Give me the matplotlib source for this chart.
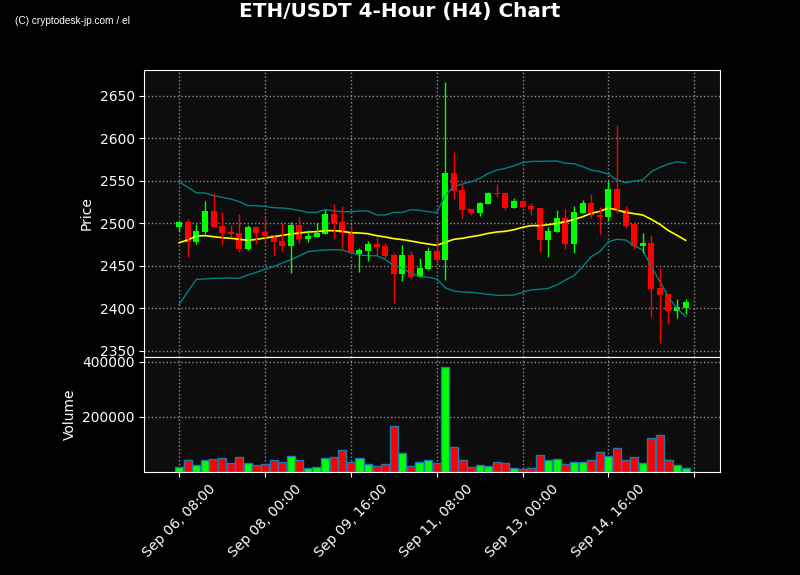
import matplotlib
matplotlib.use("Agg")
import matplotlib.pyplot as plt
import numpy as np
import pandas as pd

# ---- data ----
start = "2024-09-06 08:00"
n = 60
dates = pd.date_range(start, periods=n, freq="4h")

opens = [2496.0, 2501.6, 2478.4, 2489.8, 2514.5, 2496.9, 2489.8, 2488.6, 2470.2, 2495.7,
         2489.8, 2486.3, 2479.2, 2473.7, 2498.0, 2481.6, 2483.9, 2487.5, 2511.0, 2501.6,
         2488.6, 2464.3, 2467.5, 2476.1, 2473.7, 2462.7, 2440.8, 2462.7, 2437.3, 2446.7,
         2467.5, 2457.3, 2558.8, 2539.2, 2516.9, 2512.2, 2523.1, 2535.7, 2535.7, 2518.4,
         2526.3, 2520.8, 2518.0, 2480.8, 2489.8, 2506.3, 2476.1, 2512.2, 2524.0, 2509.8,
         2507.8, 2540.4, 2515.7, 2499.6, 2473.7, 2476.9, 2423.9, 2417.3, 2397.3, 2400.8]
highs = [2502.0, 2504.7, 2499.2, 2525.9, 2536.0, 2513.7, 2497.6, 2510.6, 2498.4, 2496.0,
         2507.1, 2486.3, 2500.0, 2501.2, 2507.1, 2491.8, 2500.0, 2516.1, 2522.4, 2520.8,
         2498.0, 2471.4, 2479.2, 2484.3, 2477.3, 2465.5, 2474.1, 2467.8, 2459.6, 2472.5,
         2485.5, 2665.9, 2583.5, 2546.3, 2516.9, 2524.7, 2537.3, 2545.9, 2535.7, 2529.4,
         2526.3, 2523.5, 2519.2, 2495.3, 2515.7, 2516.9, 2520.8, 2527.5, 2534.5, 2519.2,
         2550.2, 2615.3, 2520.4, 2500.8, 2488.2, 2485.9, 2447.8, 2417.3, 2411.0, 2411.0]
lows = [2491.4, 2460.0, 2475.3, 2487.8, 2496.1, 2474.1, 2483.9, 2465.9, 2469.0, 2475.3,
        2478.0, 2462.4, 2467.8, 2441.2, 2476.5, 2478.4, 2483.9, 2487.5, 2482.4, 2470.2,
        2464.7, 2442.4, 2455.3, 2463.1, 2458.4, 2405.9, 2432.5, 2434.1, 2437.3, 2445.5,
        2452.2, 2432.9, 2528.2, 2505.9, 2509.4, 2508.2, 2522.4, 2531.4, 2515.3, 2518.4,
        2519.2, 2509.4, 2466.7, 2460.8, 2489.8, 2470.2, 2464.7, 2512.2, 2505.9, 2487.1,
        2502.7, 2512.5, 2494.9, 2470.2, 2464.7, 2389.4, 2358.8, 2381.2, 2388.2, 2392.9]
closes = [2501.6, 2478.4, 2491.0, 2514.5, 2496.1, 2488.6, 2487.8, 2469.8, 2495.7, 2488.6,
          2485.1, 2478.4, 2473.7, 2498.0, 2481.6, 2485.1, 2488.6, 2511.0, 2500.4, 2489.0,
          2464.7, 2469.0, 2476.1, 2472.2, 2462.0, 2440.8, 2462.7, 2437.3, 2447.5, 2467.5,
          2457.3, 2558.8, 2538.4, 2516.1, 2512.2, 2523.5, 2535.7, 2534.5, 2518.4, 2526.3,
          2519.2, 2516.9, 2480.8, 2491.0, 2506.3, 2476.1, 2513.3, 2524.0, 2509.4, 2507.8,
          2540.4, 2516.5, 2497.3, 2473.7, 2476.9, 2423.1, 2416.1, 2397.3, 2401.6, 2407.5]
volumes = [17000, 42500, 24200, 42500, 47000, 49700, 31500, 53300, 31500, 24200,
           27900, 42500, 35100, 57000, 42500, 13300, 17000, 49700, 53300, 78800,
           35100, 49700, 27900, 20600, 27900, 166000, 68000, 20600, 35100, 42500,
           31500, 381000, 89800, 42500, 17000, 24200, 20600, 35100, 31500, 13300,
           9700, 13300, 60600, 42500, 46100, 27900, 35100, 35100, 42500, 71500,
           57000, 86100, 42500, 53300, 31500, 122500, 133400, 42500, 24200, 13300]
ma = [2477.3, 2480.4, 2485.1, 2485.5, 2484.3, 2483.1, 2482.4, 2481.2, 2480.0, 2481.2,
      2482.7, 2484.3, 2485.9, 2487.5, 2488.6, 2489.8, 2490.2, 2491.4, 2491.4, 2490.6,
      2489.0, 2488.6, 2487.8, 2485.5, 2483.9, 2482.0, 2480.8, 2479.2, 2477.3, 2475.7,
      2474.1, 2477.8, 2481.2, 2482.4, 2484.3, 2485.9, 2488.2, 2489.8, 2490.6, 2492.5,
      2495.3, 2497.3, 2497.3, 2498.4, 2500.0, 2502.0, 2504.5, 2507.8, 2511.8, 2514.1,
      2518.0, 2515.7, 2512.9, 2511.4, 2509.8, 2504.7, 2498.8, 2491.4, 2485.9, 2480.0]
upper = [2549.0, 2542.4, 2536.0, 2535.7, 2532.5, 2530.6, 2528.6, 2525.5, 2520.8, 2520.8,
         2520.0, 2518.4, 2518.0, 2517.0, 2515.0, 2512.9, 2512.9, 2516.1, 2514.5, 2513.7,
         2513.7, 2514.5, 2514.5, 2509.8, 2509.8, 2512.9, 2512.9, 2516.1, 2515.3, 2513.7,
         2512.5, 2533.3, 2543.1, 2546.3, 2549.0, 2552.9, 2558.8, 2562.7, 2564.7, 2567.8,
         2571.4, 2572.9, 2572.9, 2573.3, 2573.3, 2570.6, 2570.2, 2566.7, 2562.7, 2560.8,
         2558.0, 2551.0, 2547.8, 2549.8, 2551.0, 2560.8, 2565.9, 2569.8, 2572.5, 2571.0]
lower = [2404.7, 2419.6, 2434.1, 2434.5, 2435.3, 2435.5, 2435.7, 2435.3, 2439.2, 2442.4,
         2445.9, 2449.0, 2453.3, 2457.2, 2461.8, 2466.7, 2467.8, 2468.6, 2469.0, 2468.6,
         2465.5, 2462.7, 2462.0, 2462.0, 2457.6, 2449.8, 2447.1, 2441.2, 2437.6, 2436.5,
         2434.5, 2424.1, 2420.4, 2419.2, 2418.8, 2417.6, 2416.5, 2415.3, 2415.3, 2415.7,
         2418.8, 2421.6, 2422.4, 2423.5, 2427.5, 2433.3, 2438.6, 2449.0, 2460.8, 2466.7,
         2478.4, 2481.2, 2480.4, 2473.7, 2468.6, 2449.0, 2431.4, 2412.9, 2400.0, 2390.2]
price_ticks = [2350, 2400, 2450, 2500, 2550, 2600, 2650]
volume_ticks = [200000, 400000]
tick_step = 10

# ---- figure ----
UP, DOWN = "#00ff00", "#ff0000"
fig = plt.figure(figsize=(8, 5.75), dpi=100, facecolor="black")
ax = fig.add_axes([0.1806, 0.38, 0.7197, 0.4991])
axv = fig.add_axes([0.1806, 0.1797, 0.7197, 0.2003], sharex=ax)

x = np.arange(n)
o = np.array(opens); c = np.array(closes)
h = np.array(highs); l = np.array(lows)
colors = [UP if cc >= oo else DOWN for oo, cc in zip(o, c)]

for a in (ax, axv):
    a.set_facecolor("#0d0d0d")
    for s in a.spines.values():
        s.set_color("white")
    a.tick_params(colors="white", labelsize=10)
    a.grid(True, color="#9a9a9a", linestyle=":", linewidth=1, alpha=0.9)
    a.set_axisbelow(True)

ax.plot(x, upper, color="#008080", linewidth=1)
ax.plot(x, lower, color="#008080", linewidth=1)
ax.plot(x, ma, color="yellow", linewidth=1.2)
ax.vlines(x, l, h, colors=colors, linewidth=1)
ax.bar(x, np.maximum(np.abs(c - o), 0.8), bottom=np.minimum(o, c), width=0.7,
       color=colors, linewidth=0)
ax.set_ylim(2343.3, 2681.0)
ax.set_yticks(price_ticks)
ax.set_ylabel("Price", color="white", fontsize=10)
ax.tick_params(axis="x", labelbottom=False)

axv.bar(x, volumes, width=0.95, color=colors, edgecolor="#1f77b4", linewidth=1)
axv.set_ylim(0, max(volumes) * 1.1)
axv.set_yticks(volume_ticks)
axv.set_ylabel("Volume", color="white", fontsize=10)

ticks = list(range(0, n + 1, tick_step))
labels = [dates[i].strftime("%b %d, %H:%M") if i < n else "" for i in ticks]
axv.set_xticks(ticks)
axv.set_xticklabels(labels, rotation=45, ha="center")
axv.set_xlim(-4.05, 63.03)

fig.suptitle("ETH/USDT 4-Hour (H4) Chart", color="white", fontsize=14.4,
             fontweight="bold", y=0.997)
fig.text(0.019, 0.963, "(C) cryptodesk-jp.com / el", color="white", fontsize=7.3,
         family="Liberation Sans", va="center", ha="left")

fig.savefig("out.png", dpi=100, facecolor="black")
